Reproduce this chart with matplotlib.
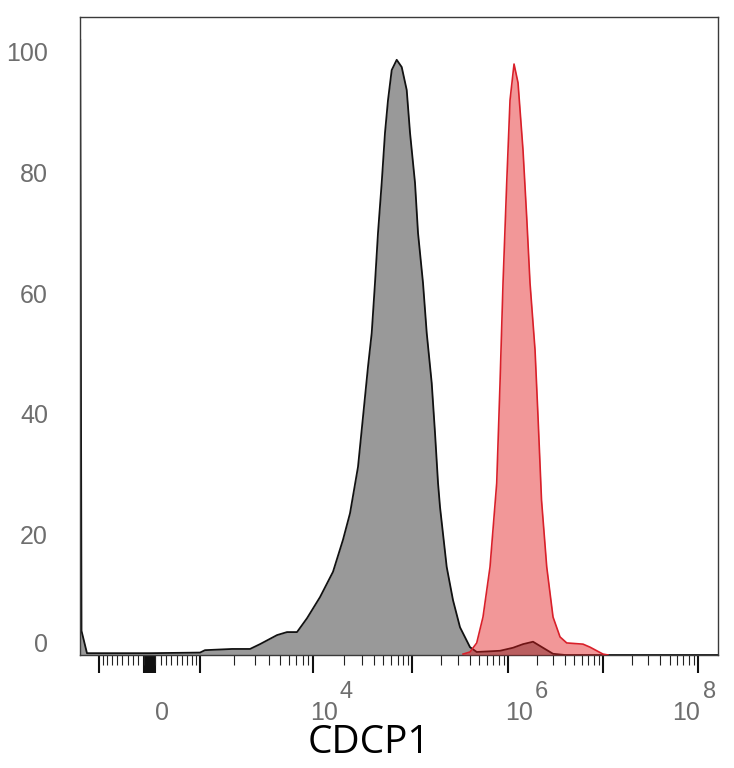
import numpy as np
import matplotlib
matplotlib.use("Agg")
import matplotlib.pyplot as plt
from matplotlib.ticker import FixedLocator, NullFormatter
from matplotlib.transforms import ScaledTranslation

# histogram of CDCP1 intensity (% of max)
grey_x = [-1490, -1451, -1295, 0, 991, 1111, 1936, 2746, 3337, 4686, 5753,
          7093, 8786, 11670, 15600, 19560, 22980, 27640, 31050, 34880, 38050,
          41090, 44100, 48120, 52010, 55830, 60970, 68640, 77320, 87100,
          94250, 106200, 114100, 128600, 140600, 158500, 171600, 184500,
          193600, 227300, 264500, 313200, 398700, 468800, 823700, 1128000,
          1437000, 1831000, 2276000, 2972000, 3973000, 1.6e8]
grey_y = [102, 4, 0.3, 0.3, 0.4, 0.8, 1.0, 1.0, 1.8, 3.3, 3.8,
          3.8, 6.1, 9.6, 13.8, 19.1, 23.5, 31.2, 39.5, 47.8, 53.4,
          61.7, 70.0, 78.3, 86.6, 92.0, 97.0, 98.7, 97.5, 93.7,
          86.6, 78.3, 70.0, 61.7, 53.4, 45.1, 36.8, 28.5,
          24.5, 14.6, 9.1, 4.6, 1.3, 0.5, 0.7, 1.2,
          1.8, 2.2, 1.3, 0.2, 0, 0]

red_x = [336700, 398700, 468800, 545700, 646600, 760200, 823700, 885700,
         968300, 1049000, 1156000, 1273000, 1437000, 1571000, 1702000,
         1922000, 2066000, 2249000, 2552000, 2972000, 3521000, 4141000,
         6147000, 7283000, 9977000, 11260000]
red_y = [0.15, 0.5, 2.0, 6.3, 14.6, 28.5, 45.1, 61.7,
         78.3, 92.0, 98.0, 94.9, 83.7, 72.6, 61.7,
         50.6, 39.5, 25.7, 14.6, 6.3, 3.0, 2.0,
         1.8, 1.3, 0.15, 0]

y_ticks = [0, 20, 40, 60, 80, 100]

# logicle-like display transform (decades)
B = 168.0
P = 3.4
U_MIN, U_MAX = -0.7316, 5.984


def inv(u):
    u = np.asarray(u, dtype=float)
    a = np.abs(u)
    return np.sign(u) * B * (10 ** a - P ** 2 * 10 ** (-a / P) + P ** 2 - 1)


_gu = np.linspace(-1.5, 7.0, 40001)
_gx = inv(_gu)


def fwd(x):
    return np.interp(np.asarray(x, dtype=float), _gx, _gu)


fig = plt.figure(figsize=(7.34, 7.68), dpi=100)
ax = fig.add_axes([80 / 734, 1 - 655 / 768, 638 / 734, 638 / 768])
ax.set_xscale("function", functions=(fwd, inv))

ax.fill_between(grey_x, grey_y, 0, color="#999999", lw=0, zorder=1)
ax.plot(grey_x, grey_y, color="#111111", lw=1.3, zorder=2)
ax.fill_between(red_x, red_y, 0, color="#e31a1c", alpha=0.45, lw=0, zorder=3)
ax.plot(red_x, red_y, color="#d9202a", lw=1.2, zorder=4)

ax.set_xlim(float(inv(U_MIN)), float(inv(U_MAX)))
ax.set_ylim(0, 105.8)

for s in ax.spines.values():
    s.set_color("#3a3a3a")
    s.set_linewidth(1.0)

# x ticks
near0 = [k * 10 for k in range(-9, 10)]
major = [-1e3] + near0 + [1e3, 1e4, 1e5, 1e6, 1e7, 1e8]
minor = [-k * 100 for k in range(1, 10)] + [k * 100 for k in range(1, 10)]
for d in range(3, 8):
    minor += [k * 10 ** d for k in range(2, 10)]
ax.xaxis.set_major_locator(FixedLocator(major))
ax.xaxis.set_minor_locator(FixedLocator(minor))
ax.xaxis.set_major_formatter(NullFormatter())
ax.xaxis.set_minor_formatter(NullFormatter())
ax.tick_params(axis="x", which="major", direction="out", length=13,
               width=1.5, color="#111111")
ax.tick_params(axis="x", which="minor", direction="out", length=7,
               width=0.8, color="#222222")

# y ticks
ax.set_yticks(y_ticks)
ax.set_yticklabels([str(v) for v in y_ticks])
ax.tick_params(axis="y", length=0, pad=23, labelsize=18, labelcolor="#6e6e6e")
for lab in ax.get_yticklabels():
    lab.set_fontfamily("Liberation Sans")
ylab0 = ax.get_yticklabels()[0]
ylab0.set_transform(ylab0.get_transform()
                    + ScaledTranslation(0, 12 / 100, fig.dpi_scale_trans))

# x labels in the picture's own layout
tcol = "#6e6e6e"
xt = ax.get_xaxis_transform()
lab_kw = dict(xycoords=xt, textcoords="offset points", ha="center",
              va="center", color=tcol, family="Liberation Sans")
ax.annotate("0", xy=(0, 0), xytext=(9, -41.8), fontsize=18, **lab_kw)
for val, exp, dx10, dxe in [(1e4, "4", 7.9, 24.1), (1e6, "6", 7.9, 24.1),
                            (1e8, "8", -8.6, 8.3)]:
    ax.annotate("10", xy=(val, 0), xytext=(dx10, -41.8), fontsize=18,
                **lab_kw)
    ax.annotate(exp, xy=(val, 0), xytext=(dxe, -26.3), fontsize=17,
                **lab_kw)

fig.text(369 / 734, 1 - 743 / 768, "CDCP1", ha="center", va="center",
         fontsize=28, family="Open Sans", color="black")

fig.savefig("out.png", dpi=100)
